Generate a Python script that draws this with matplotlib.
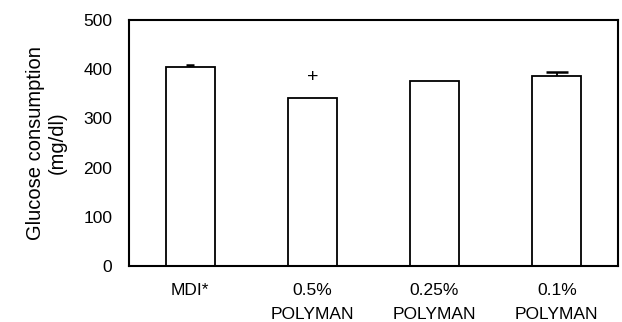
import numpy as np
import matplotlib
matplotlib.use("Agg")
import matplotlib.pyplot as plt

plt.rcParams['font.family'] = ['Liberation Sans', 'DejaVu Sans']

labels = ['MDI*', '0.5%\nPOLYMAN', '0.25%\nPOLYMAN', '0.1%\nPOLYMAN']
values = [404, 342, 376, 387]
errors = [4, 0, 0, 8]
caps = [3, 8, 8, 8]
marks = ['', '+', '', '']

fig = plt.figure(figsize=(6.22, 3.22), dpi=100)
ax = fig.add_axes([0.2074, 0.174, 0.786, 0.764])

x = np.arange(len(values))
ax.bar(x, values, width=0.4, color='white', edgecolor='black', linewidth=1.3, zorder=2)
for xi, v, e, c in zip(x, values, errors, caps):
    if e > 0:
        eb = ax.errorbar(xi, v, yerr=[[0], [e]], fmt='none', ecolor='black',
                         elinewidth=1.3, capsize=c, capthick=1.8, zorder=3)
        # only the upper cap
        eb[1][0].set_visible(False)
for xi, v, m in zip(x, values, marks):
    if m:
        ax.text(xi, v + 41, m, ha='center', va='center', fontsize=14, fontweight='light')

ax.set_xlim(-0.5, 3.5)
ax.set_ylim(0, 500)
ax.set_yticks([0, 100, 200, 300, 400, 500])
ax.set_xticks(x)
ax.set_xticklabels(labels, linespacing=1.75)
ax.tick_params(axis='both', length=0, labelsize=12.5)
ax.tick_params(axis='y', pad=12)
ax.tick_params(axis='x', pad=12)
for s in ax.spines.values():
    s.set_linewidth(1.5)
ax.set_ylabel('Glucose consumption\n(mg/dl)', fontsize=14.5, labelpad=12)

fig.savefig('out.png', dpi=100)
